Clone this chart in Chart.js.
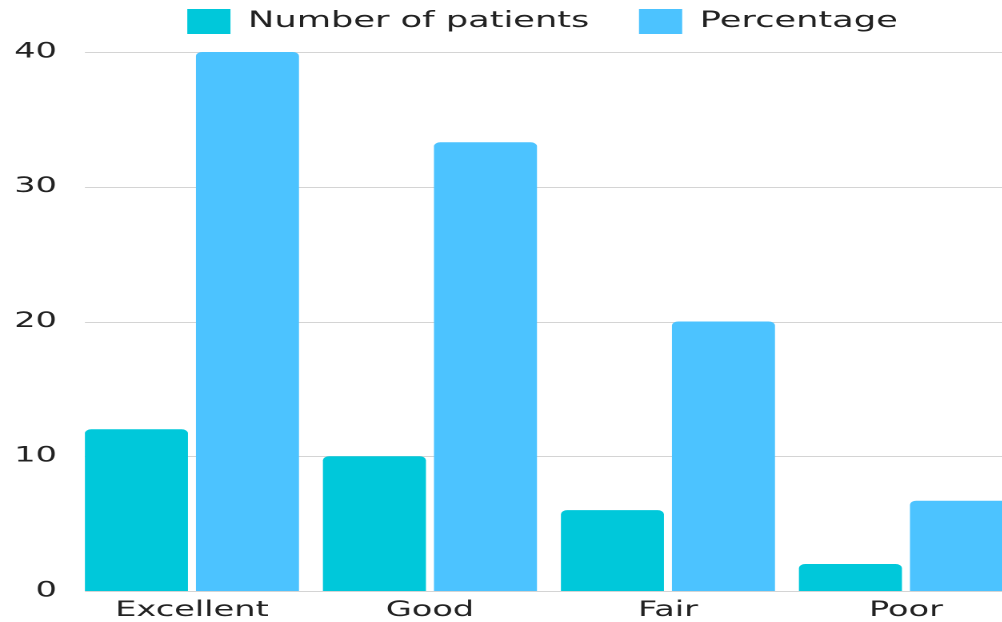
<!DOCTYPE html>
<html>
<head>
<meta charset="utf-8">
<script src="https://cdn.jsdelivr.net/npm/chart.js@4/dist/chart.umd.min.js"></script>
<style>
  html, body { margin: 0; padding: 0; background: #fff; overflow: hidden; }
  /* the chart is laid out narrow and stretched sideways for its wide lettering */
  #wrap { width: 644px; height: 622px; transform: scaleX(1.6); transform-origin: 0 0; }
</style>
</head>
<body>
<div id="wrap"><canvas id="chart"></canvas></div>
<script>
const categories = ["Excellent", "Good", "Fair", "Poor"]
const patientCounts = [12, 10, 6, 2]
const percentages = [40, 33.3, 20, 6.7]
const yTicks = [0, 10, 20, 30, 40]

const textColor = "#222222"
const fontFamily = "'DejaVu Sans', sans-serif"

// horizontal guide lines, starting at the left edge of the first bar
const gridFromFirstBar = {
  id: "gridFromFirstBar",
  beforeDatasetsDraw(chart) {
    const { ctx, chartArea } = chart
    const yScale = chart.scales.y
    const bar = chart.getDatasetMeta(0).data[0]
    if (!bar) return
    const left = bar.x - bar.width / 2
    ctx.save()
    ctx.strokeStyle = "#d4d4d4"
    ctx.lineWidth = 1
    yTicks.forEach(v => {
      const y = Math.round(yScale.getPixelForValue(v)) + 0.5
      ctx.beginPath()
      ctx.moveTo(left, y)
      ctx.lineTo(chartArea.right, y)
      ctx.stroke()
    })
    ctx.restore()
  }
}

// legend keeps wide gaps between items but sits close to the top edge
const legendPlacement = {
  id: "legendPlacement",
  afterInit(chart) {
    const legend = chart.legend
    const fit = legend.fit
    legend.fit = function() {
      fit.call(this)
      this.height = 52
    }
  },
  afterLayout(chart) {
    const legend = chart.legend
    legend.top = -22
    legend.left -= 4
    legend.right -= 4
  }
}

new Chart(document.getElementById("chart"), {
  type: "bar",
  data: {
    labels: categories,
    datasets: [
      {
        label: "Number of patients",
        data: patientCounts,
        backgroundColor: "#00c8da",
        borderRadius: 4
      },
      {
        label: "Percentage",
        data: percentages,
        backgroundColor: "#4cc3ff",
        borderRadius: 4
      }
    ]
  },
  options: {
    responsive: true,
    maintainAspectRatio: false,
    devicePixelRatio: 2,
    animation: false,
    categoryPercentage: 0.933,
    barPercentage: 0.928,
    layout: {
      padding: { top: 0, right: 3.4, bottom: 0, left: 0 }
    },
    plugins: {
      legend: {
        position: "top",
        fullSize: false,
        labels: {
          boxWidth: 27,
          boxHeight: 25,
          padding: 31,
          color: textColor,
          font: { family: fontFamily, size: 22 }
        }
      },
      tooltip: { enabled: false }
    },
    scales: {
      x: {
        grid: { display: false, drawTicks: false },
        border: { display: false },
        ticks: {
          color: textColor,
          padding: 8,
          maxRotation: 0,
          font: { family: fontFamily, size: 21, lineHeight: 1.1 }
        },
        afterFit(scale) {
          scale.height = 31
        }
      },
      y: {
        min: yTicks[0],
        max: yTicks[yTicks.length - 1],
        grid: { display: false, drawTicks: false },
        border: { display: false },
        ticks: {
          stepSize: 10,
          padding: 10,
          color: textColor,
          font: { family: fontFamily, size: 21 }
        },
        afterFit(scale) {
          scale.width = 45.6
        }
      }
    }
  },
  plugins: [gridFromFirstBar, legendPlacement]
})
</script>
</body>
</html>
